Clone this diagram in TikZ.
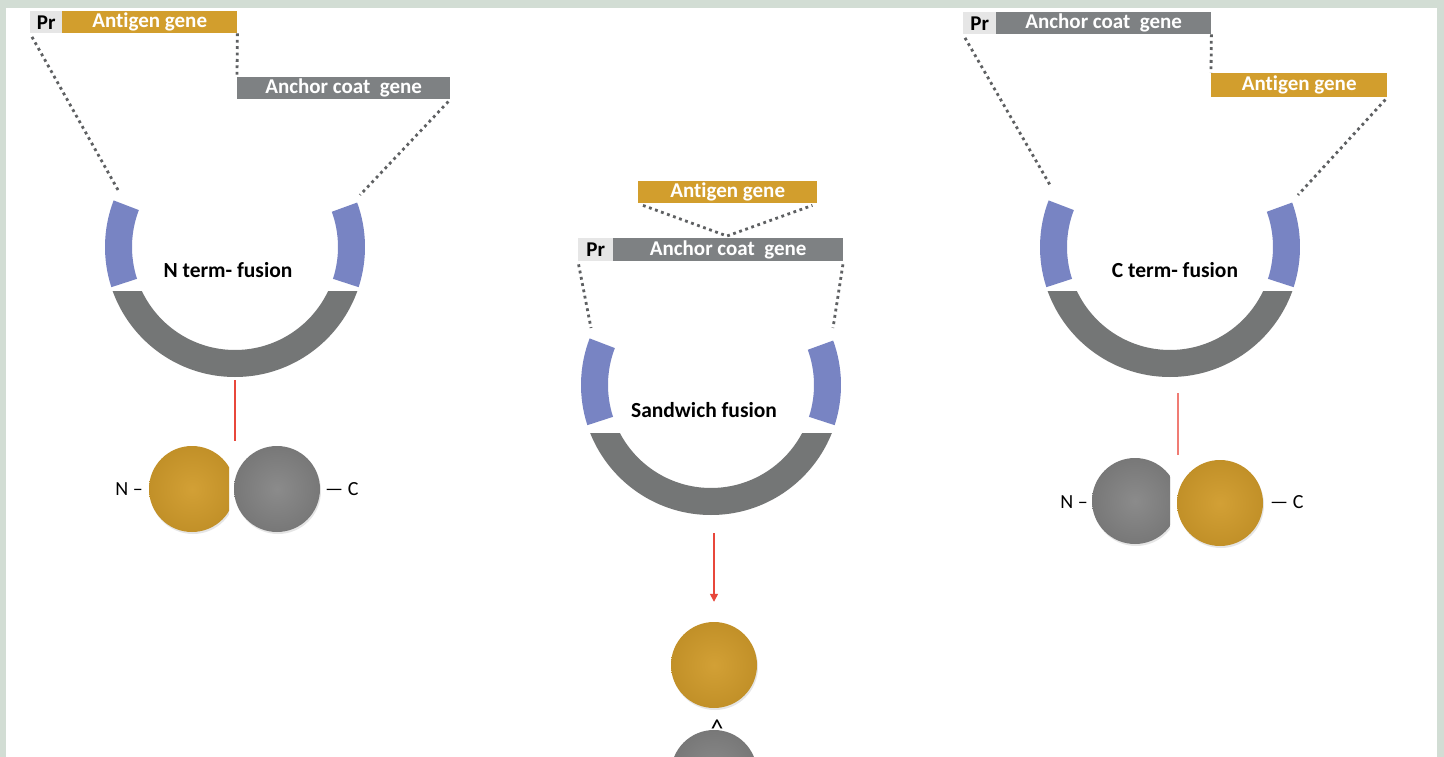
\documentclass[tikz,border=0pt]{standalone}
\usepackage{fontspec}
\setmainfont{Carlito}[Ligatures=NoCommon]
\usetikzlibrary{calc,arrows.meta,shadows}
\definecolor{gold}{HTML}{D29E2D}
\definecolor{genegray}{HTML}{7E8183}
\definecolor{prgray}{HTML}{E6E6E6}
\definecolor{ringblue}{HTML}{7884C3}
\definecolor{ringgray}{HTML}{747676}
\definecolor{dotgray}{HTML}{5E6062}
\definecolor{bgframe}{HTML}{D2DDD4}
\definecolor{redline}{HTML}{E8473B}
\definecolor{redlight}{HTML}{F07C74}
\definecolor{ballgold}{HTML}{D09B2B}
\definecolor{ballgray}{HTML}{858585}
\begin{document}
\begin{tikzpicture}[x=1pt,y=-1pt,
  genebox/.style={minimum height=22pt, inner sep=0pt, anchor=north west,
    font=\fontsize{21}{22}\selectfont\bfseries, text=white},
  prbox/.style={genebox, fill=prgray, text=black},
  dotline/.style={draw=dotgray, line width=2.8pt, dash pattern=on 2.8pt off 3.6pt},
  ringlabel/.style={font=\fontsize{21.5}{22}\selectfont\bfseries, text=black, inner sep=0pt},
  termlabel/.style={font=\fontsize{20}{22}\selectfont, text=black, inner sep=0pt},
  redl/.style={draw=redline, line width=1.4pt},
  ballgoldst/.style={circle, minimum size=86pt, inner sep=0pt, inner color=ballgold!95!white, outer color=ballgold!93!black,
    drop shadow={opacity=0.2, shadow xshift=1pt, shadow yshift=-2pt}},
  ballgrayst/.style={circle, minimum size=86pt, inner sep=0pt, inner color=ballgray!95!white, outer color=ballgray!90!black,
    drop shadow={opacity=0.2, shadow xshift=1pt, shadow yshift=-2pt}},
  plasmid/.pic={
    \fill[ringblue] (162:130) arc[start angle=162,end angle=201,radius=130]
      -- (201:103) arc[start angle=201,end angle=162,radius=103] -- cycle;
    \fill[ringblue] (-20:130) arc[start angle=-20,end angle=18,radius=130]
      -- (18:103) arc[start angle=18,end angle=-20,radius=103] -- cycle;
    \begin{scope}
      \clip (-140,#1) rectangle (140,140);
      \fill[ringgray,even odd rule] (0,0) circle[radius=130] (0,0) circle[radius=103];
    \end{scope}
  }
]
\useasboundingbox (0,0) rectangle (1444,757);
\fill[bgframe] (0,0) rectangle (1444,757);
\fill[white] (6,8) rectangle (1437,757);

\begin{scope}
\clip (6,8) rectangle (1437,757);

% ---------------- left panel: N term fusion
\node[prbox, minimum width=32pt] (pr1) at (30,11) {Pr};
\node[genebox, fill=gold, minimum width=175pt] (ag1) at (62,11) {Antigen gene};
\node[genebox, fill=genegray, minimum width=213pt] (ac1) at (237,77) {Anchor coat\ \ gene};
\pic at (235,247) {plasmid=44};
\node[ringlabel] (t1) at (228,270) {N term- fusion};
\coordinate (d1a) at (118,190);
\coordinate (d1b) at (360,195);
\draw[dotline] (ag1.south east) -- (ac1.north west);
\draw[dotline, shorten <=4pt] (pr1.south west) -- (d1a);
\draw[dotline, shorten <=3pt] (ac1.south east) -- (d1b);
\coordinate (l1a) at (235,380);
\coordinate (l1b) at (235,441);
\draw[redl] (l1a) -- (l1b);
\begin{scope}
  \clip (0,0) rectangle (229,757);
  \node[ballgoldst] (b1g) at (192,489) {};
\end{scope}
\node[ballgrayst] (b1c) at (277,489) {};
\node[termlabel, anchor=east] (n1) at (143,489) {N –};
\node[termlabel, anchor=west] (c1) at (325,489) {— C};

% ---------------- middle panel: sandwich fusion
\node[genebox, fill=gold, minimum width=179pt] (ag2) at (638,181) {Antigen gene};
\node[prbox, minimum width=35pt, minimum height=23pt] (pr2) at (578,238) {Pr};
\node[genebox, fill=genegray, minimum width=230pt, minimum height=23pt] (ac2) at (613,238) {Anchor coat\ \ gene};
\coordinate (v2) at (727,236);
\draw[dotline] ([xshift=5pt,yshift=-2pt]ag2.south west) -- (v2) -- ([xshift=-5pt,yshift=-2pt]ag2.south east);
\pic at (711,385) {plasmid=48};
\node[ringlabel] (t2) at (704,410) {Sandwich fusion};
\coordinate (m2a) at (591,328);
\coordinate (m2b) at (833,328);
\draw[dotline, shorten <=3pt] (pr2.south west) -- (m2a);
\draw[dotline, shorten <=3pt] (ac2.south east) -- (m2b);
\coordinate (l2a) at (714,533);
\node[ballgoldst] (b2g) at (714,665) {};
\draw[redl, -{Triangle[length=8pt,width=8pt]}] (l2a) -- ([yshift=20pt]b2g.north);
\node[ballgrayst] (b2c) at (714,773) {};
\node[termlabel, anchor=base, font=\fontsize{26}{28}\selectfont] (caret) at (717,737) {\textasciicircum};

% ---------------- right panel: C term fusion
\node[prbox, minimum width=33pt] (pr3) at (963,12) {Pr};
\node[genebox, fill=genegray, minimum width=215pt] (ac3) at (996,12) {Anchor coat\ \ gene};
\node[genebox, fill=gold, minimum width=176pt, minimum height=24pt] (ag3) at (1211,73) {Antigen gene};
\pic at (1170,247) {plasmid=44};
\node[ringlabel] (t3) at (1175,270) {C term- fusion};
\coordinate (d3a) at (1050,185);
\coordinate (d3b) at (1298,195);
\draw[dotline] (ac3.south east) -- (ag3.north west);
\draw[dotline, shorten <=4pt] (pr3.south west) -- (d3a);
\draw[dotline, shorten <=3pt] (ag3.south east) -- (d3b);
\coordinate (l3a) at (1178,393);
\coordinate (l3b) at (1178,455);
\draw[redl, draw=redlight] (l3a) -- (l3b);
\begin{scope}
  \clip (0,0) rectangle (1170,757);
  \node[ballgrayst] (b3n) at (1135,501) {};
\end{scope}
\node[ballgoldst] (b3c) at (1220,503) {};
\node[termlabel, anchor=east] (n3) at (1088,502) {N –};
\node[termlabel, anchor=west] (c3) at (1270,502) {— C};
\end{scope}
\end{tikzpicture}
\end{document}
